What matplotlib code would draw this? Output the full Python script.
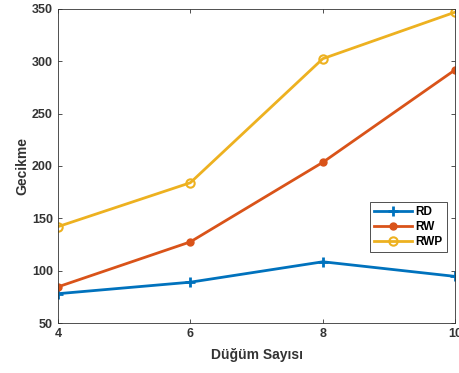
import matplotlib
matplotlib.use("Agg")
import matplotlib.pyplot as plt

nodes = [4, 6, 8, 10]
rd = [78, 89, 108.5, 94.5]
rw = [84.5, 127.5, 203.5, 292]
rwp = [142, 184, 302.5, 347]

plt.rcParams["font.family"] = ["Liberation Sans", "DejaVu Sans"]
plt.rcParams["font.weight"] = "bold"

fig = plt.figure(figsize=(4.59, 3.73), dpi=100)
ax = fig.add_axes([0.126, 0.134, 0.866, 0.842])

ax.plot(nodes, rd, color="#0072BD", lw=2, marker="+", ms=7, mew=2, label="RD")
ax.plot(nodes, rw, color="#D95319", lw=2, marker="o", ms=5, label="RW")
ax.plot(nodes, rwp, color="#EDB120", lw=2, marker="o", ms=6, mew=1.5,
        mfc="none", label="RWP")

ax.set_xlim(4, 10)
ax.set_ylim(50, 350)
ax.set_xticks([4, 6, 8, 10])
ax.set_yticks(range(50, 351, 50))
ax.tick_params(direction="in", length=3, width=0.6, labelsize=9, colors="#333333",
               top=True, right=True)
for s in ax.spines.values():
    s.set_color("#333333")
    s.set_linewidth(0.6)

ax.set_xlabel("Düğüm Sayısı", fontsize=10, fontweight="bold", color="#333333",
              labelpad=6)
ax.set_ylabel("Gecikme", fontsize=10, fontweight="bold", color="#333333",
              labelpad=2)

leg = ax.legend(loc="center right", bbox_to_anchor=(0.993, 0.305), fontsize=8.5,
                fancybox=False, framealpha=1, edgecolor="#333333",
                handlelength=3.2, borderpad=0.35, labelspacing=0.25, handletextpad=0.3)
leg.get_frame().set_linewidth(0.6)

fig.savefig("out.png", dpi=100)
